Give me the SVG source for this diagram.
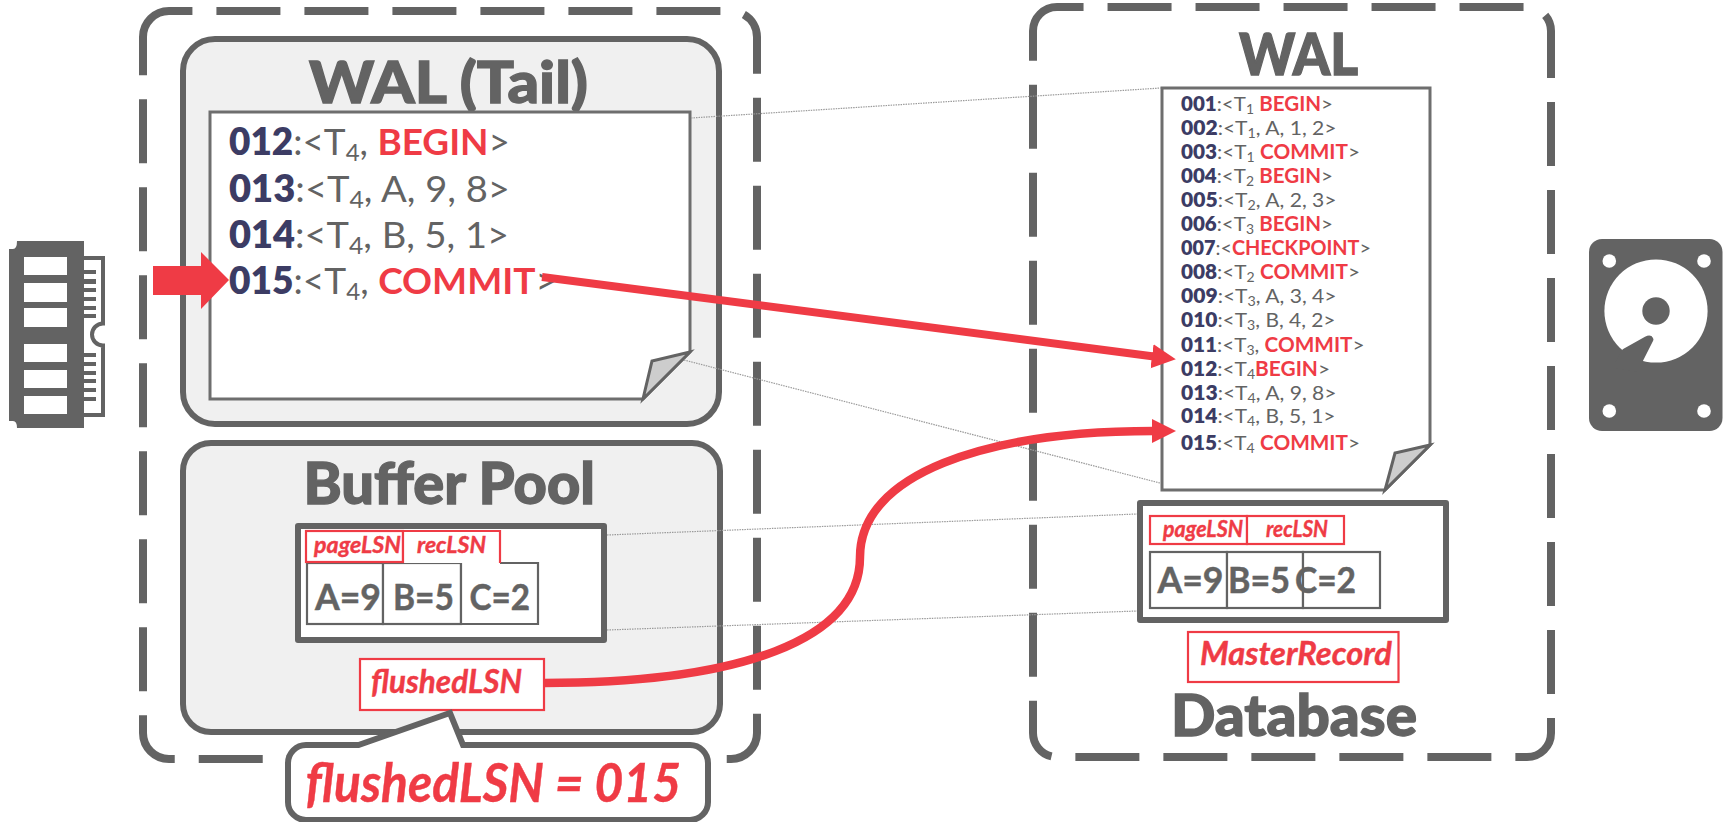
<svg xmlns="http://www.w3.org/2000/svg" width="1727" height="822" viewBox="0 0 1727 822">
<defs>
<style>
text{font-family:"Lato","Liberation Sans",sans-serif;fill:#636363;white-space:pre}
.title{font-weight:900;font-size:57px;stroke:#636363;stroke-width:1.3}
.dash{fill:none;stroke:#636363;stroke-width:8;stroke-dasharray:64 24}
.panel{fill:#f0f0f0;stroke:#636363;stroke-width:6}
.doc{fill:#fff;stroke:#6e6e6e;stroke-width:3;stroke-linejoin:miter}
.fold{fill:#cdcdcd;stroke:#636363;stroke-width:3;stroke-linejoin:miter}
.tbl{fill:#fff;stroke:#636363;stroke-width:6;stroke-linejoin:round}
.cell{fill:#fff;stroke:#636363;stroke-width:2.2}
.rbox{fill:#fff;stroke:#ef3b45;stroke-width:2.2}
.r{fill:#ef3b45}
.rt{fill:#ef3b45;font-style:italic;font-weight:700;stroke:#ef3b45;stroke-width:.4}
.rb{fill:#ef3b45;font-weight:700}
.n{fill:#3c3c64;font-weight:800}
.big{font-size:37px}
.small{font-size:20px}
.val{font-weight:700;font-size:37px;stroke:#636363;stroke-width:.5}
.g{fill:#636363}
.w{fill:#fff}
.frame{fill:none;stroke:#636363;stroke-width:4}
.dot{fill:none;stroke:#9a9a9a;stroke-width:1.2;stroke-dasharray:1.5 1}
.ar{fill:none;stroke:#ef3b45}
</style>
<marker id="head" markerUnits="userSpaceOnUse" markerWidth="26" markerHeight="26" refX="2" refY="12" orient="auto"><polygon points="0,0 24,12 0,24" fill="#ef3b45"/></marker>
</defs>
<rect width="1727" height="822" fill="#fff"/>

<g id="ram-icon">
<path class="g" d="M17 241H84V428H17Q17 421 13 421H9V249H13Q17 249 17 241Z"/>
<path class="frame" d="M84 258H103V323.500A11 11 0 0 0 103 345.500V415H84"/>
<g class="w"><rect x="24" y="257" width="43" height="18"/><rect x="24" y="283" width="43" height="19"/><rect x="24" y="308" width="43" height="19"/><rect x="24" y="344" width="43" height="18"/><rect x="24" y="370" width="43" height="18"/><rect x="24" y="396" width="43" height="18"/></g>
<g class="g"><rect x="84" y="270" width="12" height="4"/><rect x="84" y="279" width="12" height="5"/><rect x="84" y="288" width="12" height="4"/><rect x="84" y="297" width="12" height="4"/><rect x="84" y="306" width="12" height="4"/><rect x="84" y="314" width="12" height="4"/><rect x="84" y="353" width="12" height="4"/><rect x="84" y="362" width="12" height="4"/><rect x="84" y="371" width="12" height="4"/><rect x="84" y="379" width="12" height="4"/><rect x="84" y="388" width="12" height="4"/><rect x="84" y="397" width="12" height="4"/></g>
</g>

<g id="memory-box">
<path class="dash" d="M143 37A26 26 0 0 1 169 11H731A26 26 0 0 1 757 37V733A26 26 0 0 1 731 759H169A26 26 0 0 1 143 733Z"/>
</g>

<g id="wal-tail">
<rect class="panel" x="183" y="39" width="536" height="385" rx="32"/>
<text class="title" x="309" y="103" textLength="279" lengthAdjust="spacingAndGlyphs">WAL (Tail)</text>
<path class="doc" d="M210 112H690V352L643 399H210Z"/>
<path class="fold" d="M690 352L652 361L643 399Z"/>
<text class="big" x="229" y="155" textLength="281" lengthAdjust="spacingAndGlyphs"><tspan class="n">012</tspan>:&lt;T<tspan font-size="24" dy="6">4</tspan><tspan dy="-6">, </tspan><tspan class="rb">BEGIN</tspan>&gt;</text>
<text class="big" x="229" y="202" textLength="281" lengthAdjust="spacingAndGlyphs"><tspan class="n">013</tspan>:&lt;T<tspan font-size="24" dy="6">4</tspan><tspan dy="-6">, A, 9, 8&gt;</tspan></text>
<text class="big" x="229" y="248" textLength="280" lengthAdjust="spacingAndGlyphs"><tspan class="n">014</tspan>:&lt;T<tspan font-size="24" dy="6">4</tspan><tspan dy="-6">, B, 5, 1&gt;</tspan></text>
<text class="big" x="229" y="294" textLength="328" lengthAdjust="spacingAndGlyphs"><tspan class="n">015</tspan>:&lt;T<tspan font-size="24" dy="6">4</tspan><tspan dy="-6">, </tspan><tspan class="rb">COMMIT</tspan>&gt;</text>
</g>

<g id="buffer-pool">
<rect class="panel" x="183" y="443" width="537" height="289" rx="28"/>
<text class="title" x="303.500" y="504" textLength="291.500" lengthAdjust="spacingAndGlyphs">Buffer Pool</text>
<rect class="tbl" x="298" y="526" width="306" height="114"/>
<rect class="cell" x="307" y="563" width="76" height="61"/>
<rect class="cell" x="383" y="563" width="78" height="61"/>
<path class="cell" d="M500 563H538V624H461V563"/>
<rect class="rbox" x="306" y="531" width="97" height="31"/>
<path class="rbox" d="M403 563V531H500V563"/>
<text class="rt" font-size="23" x="314" y="553" textLength="87" lengthAdjust="spacingAndGlyphs">pageLSN</text>
<text class="rt" font-size="23" x="417" y="553" textLength="69" lengthAdjust="spacingAndGlyphs">recLSN</text>
<text class="val" x="315" y="610" textLength="66" lengthAdjust="spacingAndGlyphs">A=9</text>
<text class="val" x="393" y="610" textLength="61" lengthAdjust="spacingAndGlyphs">B=5</text>
<text class="val" x="469.500" y="610" textLength="60.500" lengthAdjust="spacingAndGlyphs">C=2</text>
<rect class="rbox" x="360" y="659" width="184" height="51"/>
<text class="rt" font-size="33" x="371" y="693" textLength="151" lengthAdjust="spacingAndGlyphs">flushedLSN</text>
</g>

<g id="database-box">
<path class="dash" d="M1033 31A24 24 0 0 1 1057 7H1527A24 24 0 0 1 1551 31V733A24 24 0 0 1 1527 757H1057A24 24 0 0 1 1033 733Z"/>
</g>

<g id="wal-disk">
<text class="title" x="1239" y="75" textLength="119" lengthAdjust="spacingAndGlyphs">WAL</text>
<path class="doc" d="M1162 88H1430V445L1385 490H1162Z"/>
<path class="fold" d="M1430 445L1395 453L1385 490Z"/>
<g class="small">
<text x="1181" y="111" textLength="152" lengthAdjust="spacingAndGlyphs"><tspan class="n">001</tspan>:&lt;T<tspan font-size="13.500" dy="3">1</tspan><tspan dy="-3"> </tspan><tspan class="rb">BEGIN</tspan>&gt;</text>
<text x="1181" y="135" textLength="155.500" lengthAdjust="spacingAndGlyphs"><tspan class="n">002</tspan>:&lt;T<tspan font-size="13.500" dy="3">1</tspan><tspan dy="-3">, A, 1, 2&gt;</tspan></text>
<text x="1181" y="159" textLength="179" lengthAdjust="spacingAndGlyphs"><tspan class="n">003</tspan>:&lt;T<tspan font-size="13.500" dy="3">1</tspan><tspan dy="-3"> </tspan><tspan class="rb">COMMIT</tspan>&gt;</text>
<text x="1181" y="183" textLength="152" lengthAdjust="spacingAndGlyphs"><tspan class="n">004</tspan>:&lt;T<tspan font-size="13.500" dy="3">2</tspan><tspan dy="-3"> </tspan><tspan class="rb">BEGIN</tspan>&gt;</text>
<text x="1181" y="207" textLength="155.500" lengthAdjust="spacingAndGlyphs"><tspan class="n">005</tspan>:&lt;T<tspan font-size="13.500" dy="3">2</tspan><tspan dy="-3">, A, 2, 3&gt;</tspan></text>
<text x="1181" y="231" textLength="152" lengthAdjust="spacingAndGlyphs"><tspan class="n">006</tspan>:&lt;T<tspan font-size="13.500" dy="3">3</tspan><tspan dy="-3"> </tspan><tspan class="rb">BEGIN</tspan>&gt;</text>
<text x="1181" y="255" textLength="190" lengthAdjust="spacingAndGlyphs"><tspan class="n">007</tspan>:&lt;<tspan class="rb">CHECKPOINT</tspan>&gt;</text>
<text x="1181" y="279" textLength="179" lengthAdjust="spacingAndGlyphs"><tspan class="n">008</tspan>:&lt;T<tspan font-size="13.500" dy="3">2</tspan><tspan dy="-3"> </tspan><tspan class="rb">COMMIT</tspan>&gt;</text>
<text x="1181" y="303" textLength="155.500" lengthAdjust="spacingAndGlyphs"><tspan class="n">009</tspan>:&lt;T<tspan font-size="13.500" dy="3">3</tspan><tspan dy="-3">, A, 3, 4&gt;</tspan></text>
<text x="1181" y="327" textLength="154.500" lengthAdjust="spacingAndGlyphs"><tspan class="n">010</tspan>:&lt;T<tspan font-size="13.500" dy="3">3</tspan><tspan dy="-3">, B, 4, 2&gt;</tspan></text>
<text x="1181" y="352" textLength="183.500" lengthAdjust="spacingAndGlyphs"><tspan class="n">011</tspan>:&lt;T<tspan font-size="13.500" dy="3">3</tspan><tspan dy="-3">, </tspan><tspan class="rb">COMMIT</tspan>&gt;</text>
<text x="1181" y="376" textLength="149" lengthAdjust="spacingAndGlyphs"><tspan class="n">012</tspan>:&lt;T<tspan font-size="13.500" dy="3">4</tspan><tspan class="rb" dy="-3">BEGIN</tspan>&gt;</text>
<text x="1181" y="400" textLength="155.500" lengthAdjust="spacingAndGlyphs"><tspan class="n">013</tspan>:&lt;T<tspan font-size="13.500" dy="3">4</tspan><tspan dy="-3">, A, 9, 8&gt;</tspan></text>
<text x="1181" y="423" textLength="154.500" lengthAdjust="spacingAndGlyphs"><tspan class="n">014</tspan>:&lt;T<tspan font-size="13.500" dy="3">4</tspan><tspan dy="-3">, B, 5, 1&gt;</tspan></text>
<text x="1181" y="450" textLength="179" lengthAdjust="spacingAndGlyphs"><tspan class="n">015</tspan>:&lt;T<tspan font-size="13.500" dy="3">4</tspan><tspan dy="-3"> </tspan><tspan class="rb">COMMIT</tspan>&gt;</text>
</g>
</g>

<g id="database-pages">
<rect class="tbl" x="1140" y="503" width="306" height="117"/>
<rect class="rbox" x="1150" y="516" width="97" height="28"/>
<rect class="rbox" x="1247" y="516" width="97" height="28"/>
<text class="rt" font-size="22" x="1163" y="537" textLength="80" lengthAdjust="spacingAndGlyphs">pageLSN</text>
<text class="rt" font-size="22" x="1266" y="537" textLength="62" lengthAdjust="spacingAndGlyphs">recLSN</text>
<rect class="cell" x="1150" y="552" width="77" height="56"/>
<rect class="cell" x="1227" y="552" width="76" height="56"/>
<rect class="cell" x="1303" y="552" width="77" height="56"/>
<text class="val" x="1157.500" y="593" textLength="66" lengthAdjust="spacingAndGlyphs">A=9</text>
<text class="val" x="1228" y="593" textLength="62" lengthAdjust="spacingAndGlyphs">B=5</text>
<text class="val" x="1295" y="593" textLength="61" lengthAdjust="spacingAndGlyphs">C=2</text>
</g>

<g id="master-record">
<rect class="rbox" x="1188" y="632" width="210.500" height="50"/>
<text class="rt" font-size="32" x="1200" y="665" textLength="192" lengthAdjust="spacingAndGlyphs">MasterRecord</text>
</g>
<text id="database-label" class="title" x="1171" y="736" textLength="246" lengthAdjust="spacingAndGlyphs">Database</text>

<g id="hdd-icon">
<rect class="g" x="1589" y="239" width="133.500" height="192" rx="13"/>
<g class="w"><circle cx="1609.300" cy="261" r="6.800"/><circle cx="1704" cy="261" r="6.800"/><circle cx="1609.300" cy="411" r="6.800"/><circle cx="1704" cy="411" r="6.800"/><circle cx="1656" cy="311" r="51.600"/></g>
<circle class="g" cx="1656" cy="311" r="13.700"/>
<path class="g" d="M1622.700 349.300L1645 336.700Q1651 334 1653 338Q1654 340 1653 341L1643 360.700L1636 372L1612 368Z"/>
</g>

<g id="connectors">
<path class="dot" d="M691 118L1161 88"/>
<path class="dot" d="M684 360L1160 483"/>
<path class="dot" d="M607 535L1137 514"/>
<path class="dot" d="M607 630L1137 611"/>
<polygon class="r" points="153,266 201,266 201,252 229,280 201,309 201,295 153,295"/>
<path class="ar" stroke-width="8" marker-end="url(#head)" d="M542 277L1154 356.500"/>
<path class="ar" stroke-width="8.500" marker-end="url(#head)" d="M544 683C740 683 860 640 860 557C860 474 985 431 1154 431"/>
</g>

<g id="flushed-callout">
<path d="M306 745H358.500L450 713L463 745H690A18 18 0 0 1 708 763V802A18 18 0 0 1 690 820H306A18 18 0 0 1 288 802V763A18 18 0 0 1 306 745Z" fill="#fff" stroke="#636363" stroke-width="6"/>
<text class="rt" font-size="53" x="305.600" y="802" textLength="375.400" lengthAdjust="spacingAndGlyphs">flushedLSN = 015</text>
</g>
</svg>
